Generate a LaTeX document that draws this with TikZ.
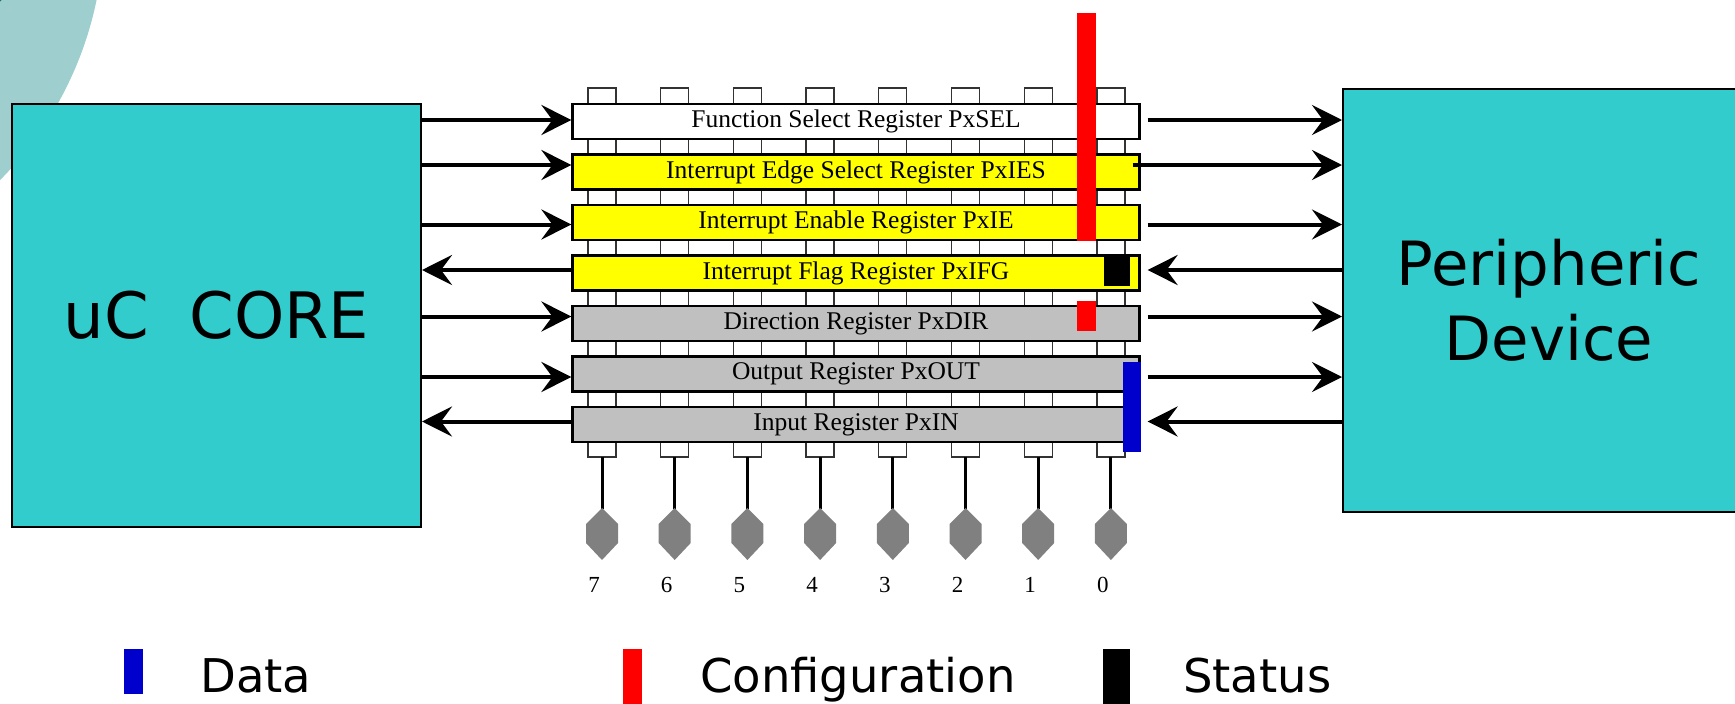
\documentclass[tikz,border=0pt]{standalone}
\usepackage{fontspec}
\setmainfont{Liberation Serif}
\newfontfamily\labelsans{DejaVu Sans}
\usetikzlibrary{arrows.meta}

\definecolor{coreteal}{HTML}{33CCCC}
\definecolor{haloteal}{HTML}{9ECECE}
\definecolor{darkteal}{HTML}{1F6F6F}
\definecolor{regyellow}{HTML}{FFFF00}
\definecolor{reggray}{HTML}{C0C0C0}
\definecolor{cfgred}{HTML}{FF0000}
\definecolor{datablue}{HTML}{0000CC}
\definecolor{pingray}{HTML}{808080}

\begin{document}
\begin{tikzpicture}[x=1pt, y=-1pt,
  corebox/.style={draw=black, line width=2pt, fill=coreteal, inner sep=0pt},
  regbox/.style={draw=black, line width=2.2pt, minimum width=567pt,
    minimum height=35pt, inner sep=0pt, font=\fontsize{25.5}{29}\selectfont},
  bitcol/.style={draw=black!80, line width=1.3pt, fill=white},
  pinline/.style={line width=3pt, black},
  pinhead/.style={fill=pingray},
  digit/.style={font=\fontsize{23}{27}\selectfont, inner sep=0pt},
  arr/.style={line width=4pt, -{Stealth[length=30pt, width=30pt, inset=11pt]}},
  keytxt/.style={font=\labelsans\fontsize{46.5}{56}\selectfont, anchor=base west, inner sep=0pt}]

\useasboundingbox (0,0) rectangle (1735,704);
\clip (0,0) rectangle (1735,704);

% decorative disc in the corner
\fill[haloteal] (-256,-73) circle[radius=360pt];
\fill[darkteal] (-60,-60) circle[radius=86pt];

% bit columns behind the registers, pins and bit numbers
\foreach \k in {0,...,7} {
  \pgfmathsetmacro{\cx}{602+72.7*\k}
  \pgfmathtruncatemacro{\bit}{7-\k}
  \draw[bitcol] (\cx-14,88) rectangle (\cx+14,457);
  \draw[pinline] (\cx,457) -- (\cx,509);
  \fill[pinhead] (\cx,508) -- (\cx+16,524) -- (\cx+16,543) -- (\cx,560)
    -- (\cx-16,543) -- (\cx-16,524) -- cycle;
  \node[digit] (bit\bit) at (\cx-8,585) {\bit};
}

% port registers
\node[regbox, fill=white]     (regSEL) at (856,121.5) {Function Select Register PxSEL};
\node[regbox, fill=regyellow] (regIES) at (856,172)   {Interrupt Edge Select Register PxIES};
\node[regbox, fill=regyellow] (regIE)  at (856,222.5) {Interrupt Enable Register PxIE};
\node[regbox, fill=regyellow] (regIFG) at (856,273)   {Interrupt Flag Register PxIFG};
\node[regbox, fill=reggray]   (regDIR) at (856,323.5) {Direction Register PxDIR};
\node[regbox, fill=reggray]   (regOUT) at (856,374)   {Output Register PxOUT};
\node[regbox, fill=reggray]   (regIN)  at (856,424.5) {Input Register PxIN};

% register class markers
\fill[cfgred] (1077,13) rectangle (1096,241);
\fill[cfgred] (1077,301) rectangle (1096,331);
\fill[black] (1104,257) rectangle (1130,286);
\fill[datablue] (1123,362) rectangle (1141,452);

% the two blocks
\node[corebox, minimum width=409pt, minimum height=423pt,
  font=\labelsans\fontsize{64}{76}\selectfont] (core) at (216.5,315.5) {uC\ \ CORE};
\node[corebox, minimum width=412pt, minimum height=423pt, align=center,
  font=\labelsans\fontsize{61}{75}\selectfont] (peri) at (1549,300.5) {Peripheric\\Device};

% connector anchor points on each register
\coordinate (aSEL) at ([yshift=1.5pt]regSEL.west);
\coordinate (aIES) at ([yshift=7pt]regIES.west);
\coordinate (aIE)  at ([yshift=-2pt]regIE.west);
\coordinate (aIFG) at ([yshift=3pt]regIFG.west);
\coordinate (aDIR) at ([yshift=7pt]regDIR.west);
\coordinate (aOUT) at ([yshift=-3pt]regOUT.west);
\coordinate (aIN)  at ([yshift=3pt]regIN.west);

\coordinate (bSEL) at ([xshift=7pt, yshift=1.5pt]regSEL.east);
\coordinate (bIES) at ([xshift=-8pt, yshift=7pt]regIES.east);
\coordinate (bIE)  at ([xshift=7pt, yshift=-2pt]regIE.east);
\coordinate (bIFG) at ([xshift=7pt, yshift=3pt]regIFG.east);
\coordinate (bDIR) at ([xshift=7pt, yshift=7pt]regDIR.east);
\coordinate (bOUT) at ([xshift=7pt, yshift=-3pt]regOUT.east);
\coordinate (bIN)  at ([xshift=7pt, yshift=3pt]regIN.east);

% core <-> registers
\draw[arr] (core.east |- aSEL) -- (aSEL);
\draw[arr] (core.east |- aIES) -- (aIES);
\draw[arr] (core.east |- aIE)  -- (aIE);
\draw[arr] (aIFG) -- (core.east |- aIFG);
\draw[arr] (core.east |- aDIR) -- (aDIR);
\draw[arr] (core.east |- aOUT) -- (aOUT);
\draw[arr] (aIN) -- (core.east |- aIN);

% registers <-> peripheral
\draw[arr] (bSEL) -- (peri.west |- bSEL);
\draw[arr] (bIES) -- (peri.west |- bIES);
\draw[arr] (bIE)  -- (peri.west |- bIE);
\draw[arr] (peri.west |- bIFG) -- (bIFG);
\draw[arr] (bDIR) -- (peri.west |- bDIR);
\draw[arr] (bOUT) -- (peri.west |- bOUT);
\draw[arr] (peri.west |- bIN) -- (bIN);

% key
\fill[datablue] (124,649) rectangle (143,694);
\node[keytxt] (keyData) at (200,692) {Data};
\fill[cfgred] (623,649) rectangle (642,710);
\node[keytxt] (keyCfg) at (700,692) {Configuration};
\fill[black] (1103,649) rectangle (1130,710);
\node[keytxt] (keyStat) at (1183,692) {Status};

\end{tikzpicture}
\end{document}
